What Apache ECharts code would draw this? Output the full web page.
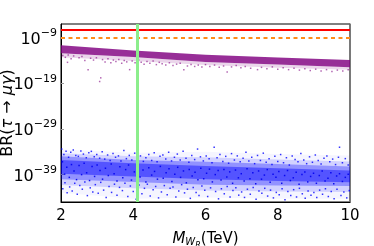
<!DOCTYPE html>
<html><head><meta charset="utf-8">
<script src="https://cdn.jsdelivr.net/npm/echarts@6/dist/echarts.min.js"></script>
<style>html,body{margin:0;padding:0;background:#fff}#c{width:374px;height:246px}</style>
</head><body><div id="c"></div>
<script>
// ---- data (y values are log10 of BR) ----
const xTicks = [2, 4, 6, 8, 10];
const yTickExps = [-39, -29, -19, -9];
const limitCurrent = -7.3;   // red solid
const limitFuture = -8.92;   // orange dashed
const greenMWR = 4.1;        // green vertical

const bandX = [2, 4, 6, 8, 10];
const purpleTop = [-10.67, -11.8, -12.74, -13.35, -13.89];
const purpleBottom = [-12.4, -13.25, -14.33, -14.9, -15.5];
const purpleSparseBottom = [-13.3, -14.1, -15.0, -15.6, -16.0];

const blueOuterTop = [-33.5, -34.2, -34.0, -34.5, -34.8];
const blueOuterBottom = [-43.0, -44.3, -44.0, -44.3, -44.3];
const blueMidTop = [-34.3, -35.0, -35.2, -35.7, -36.1];
const blueMidBottom = [-41.3, -42.0, -42.5, -42.7, -42.8];
const blueDenseTop = [-35.0, -35.8, -36.2, -36.7, -37.2];
const blueDenseBottom = [-40.0, -40.6, -41.2, -41.4, -41.5];
const blueCoreTop = [-35.8, -36.5, -37.1, -37.6, -38.1];
const blueCoreBottom = [-38.8, -39.4, -40.0, -40.4, -40.7];

const purplePts = [[2.05,-12.9],[2.12,-13.3],[2.18,-14.4],[2.20,-12.8],[2.28,-13.6],[2.35,-13.0],[2.50,-13.4],[2.58,-13.1],[2.66,-14.0],[2.75,-16.0],[2.82,-13.5],[2.90,-13.9],[2.98,-13.4],[3.07,-18.6],[3.10,-17.8],[3.15,-13.8],[3.22,-14.3],[3.30,-13.6],[3.38,-14.5],[3.45,-13.9],[3.52,-14.2],[3.60,-13.8],[3.68,-14.6],[3.75,-14.0],[3.82,-14.3],[3.90,-16.0],[3.97,-14.1],[4.05,-14.5],[4.15,-13.9],[4.22,-14.4],[4.30,-14.8],[4.38,-14.2],[4.46,-14.6],[4.55,-14.1],[4.64,-14.9],[4.72,-14.4],[4.80,-14.7],[4.90,-15.0],[5.00,-14.5],[5.10,-15.1],[5.20,-14.8],[5.30,-14.6],[5.40,-16.0],[5.50,-15.2],[5.60,-14.9],[5.70,-15.3],[5.80,-15.0],[5.90,-15.4],[6.00,-14.9],[6.12,-15.3],[6.25,-15.0],[6.38,-15.5],[6.50,-15.2],[6.60,-16.5],[6.72,-15.4],[6.85,-15.1],[6.98,-15.6],[7.10,-15.3],[7.25,-15.7],[7.44,-16.0],[7.55,-15.5],[7.70,-15.8],[7.85,-15.4],[8.00,-15.9],[8.15,-15.6],[8.30,-16.0],[8.45,-15.7],[8.60,-16.1],[8.75,-15.8],[8.90,-16.2],[9.05,-15.9],[9.20,-16.3],[9.35,-16.0],[9.50,-16.4],[9.65,-16.1],[9.80,-16.3],[9.95,-16.0]];

const bluePts = [[2.02,-33.4],[2.05,-42.1],[2.08,-34.6],[2.11,-40.8],[2.14,-33.9],[2.17,-43.0],[2.21,-35.2],[2.24,-41.7],[2.27,-34.1],[2.31,-42.6],[2.34,-33.6],[2.38,-40.9],[2.41,-34.8],[2.45,-43.3],[2.48,-35.0],[2.52,-41.4],[2.55,-33.8],[2.59,-42.2],[2.62,-34.5],[2.66,-40.6],[2.70,-35.3],[2.73,-43.6],[2.77,-34.2],[2.81,-41.9],[2.84,-33.9],[2.88,-42.8],[2.92,-35.1],[2.95,-41.2],[2.99,-34.6],[3.03,-43.1],[3.07,-35.4],[3.10,-40.7],[3.14,-34.0],[3.18,-42.4],[3.21,-35.6],[3.25,-44.0],[3.29,-34.7],[3.33,-41.6],[3.36,-35.9],[3.40,-42.9],[3.44,-34.4],[3.48,-41.1],[3.51,-35.2],[3.55,-43.5],[3.59,-34.9],[3.62,-41.8],[3.66,-36.0],[3.70,-42.5],[3.74,-33.7],[3.77,-40.9],[3.81,-35.5],[3.85,-43.8],[3.89,-34.8],[3.92,-41.5],[3.96,-35.8],[4.00,-42.7],[4.04,-34.3],[4.08,-44.4],[4.12,-35.7],[4.16,-41.3],[4.20,-34.9],[4.24,-43.2],[4.28,-36.1],[4.31,-42.0],[4.35,-35.3],[4.39,-41.1],[4.43,-34.6],[4.47,-43.7],[4.51,-35.9],[4.55,-42.3],[4.58,-34.2],[4.62,-41.6],[4.66,-36.2],[4.70,-44.1],[4.74,-35.0],[4.78,-42.8],[4.82,-34.7],[4.86,-41.4],[4.90,-35.6],[4.94,-43.4],[4.98,-34.1],[5.02,-42.0],[5.06,-36.0],[5.10,-41.7],[5.14,-35.2],[5.18,-43.9],[5.22,-34.5],[5.26,-42.6],[5.30,-35.8],[5.34,-41.2],[5.38,-33.9],[5.42,-43.0],[5.46,-35.4],[5.50,-42.2],[5.54,-36.3],[5.58,-44.2],[5.62,-34.8],[5.66,-41.8],[5.70,-35.7],[5.74,-42.9],[5.78,-33.4],[5.82,-43.6],[5.86,-35.1],[5.90,-41.5],[5.94,-36.0],[5.98,-42.4],[6.02,-34.9],[6.06,-43.8],[6.10,-35.5],[6.14,-41.9],[6.18,-36.4],[6.24,-33.0],[6.28,-42.7],[6.32,-35.3],[6.36,-44.3],[6.40,-34.6],[6.44,-42.1],[6.48,-36.1],[6.52,-43.2],[6.56,-35.0],[6.60,-41.6],[6.64,-36.5],[6.68,-43.9],[6.72,-34.4],[6.76,-42.5],[6.80,-35.8],[6.84,-41.9],[6.88,-34.9],[6.92,-43.5],[6.96,-36.2],[7.00,-42.8],[7.04,-35.4],[7.08,-44.0],[7.12,-34.1],[7.16,-42.2],[7.20,-36.0],[7.24,-43.3],[7.28,-35.2],[7.32,-41.8],[7.36,-36.6],[7.40,-44.4],[7.44,-34.8],[7.48,-42.6],[7.52,-35.9],[7.56,-43.1],[7.60,-34.3],[7.64,-42.0],[7.68,-36.3],[7.72,-43.7],[7.76,-35.5],[7.80,-42.4],[7.84,-36.8],[7.88,-44.1],[7.92,-35.0],[7.96,-42.9],[8.00,-36.1],[8.04,-43.4],[8.08,-34.6],[8.12,-42.1],[8.16,-36.4],[8.20,-44.5],[8.24,-35.3],[8.28,-42.7],[8.32,-36.9],[8.36,-43.6],[8.40,-34.9],[8.44,-42.3],[8.48,-35.7],[8.52,-43.9],[8.56,-36.2],[8.60,-42.0],[8.64,-34.4],[8.68,-43.2],[8.72,-35.8],[8.76,-44.2],[8.80,-36.6],[8.84,-42.6],[8.88,-35.1],[8.92,-43.5],[8.96,-36.3],[9.00,-42.9],[9.04,-34.7],[9.08,-44.0],[9.12,-35.9],[9.16,-42.4],[9.20,-36.7],[9.24,-43.3],[9.28,-35.4],[9.32,-42.1],[9.36,-34.9],[9.40,-43.8],[9.44,-36.2],[9.48,-42.7],[9.52,-35.6],[9.56,-44.3],[9.60,-36.8],[9.64,-42.2],[9.68,-35.2],[9.71,-33.0],[9.75,-43.6],[9.79,-36.4],[9.83,-42.8],[9.87,-35.5],[9.91,-44.1],[9.95,-36.9],[9.98,-42.5]];

const blueDensePts = [[2.04,-36.2],[2.10,-38.9],[2.16,-37.4],[2.23,-39.6],[2.29,-36.8],[2.36,-38.2],[2.43,-40.1],[2.50,-37.0],[2.57,-39.0],[2.64,-36.5],[2.71,-38.6],[2.79,-40.3],[2.86,-37.2],[2.93,-39.4],[3.00,-36.9],[3.08,-38.1],[3.15,-40.0],[3.23,-37.6],[3.31,-39.2],[3.39,-36.7],[3.47,-38.8],[3.55,-40.4],[3.63,-37.3],[3.71,-39.7],[3.79,-37.9],[3.87,-36.9],[3.95,-40.2],[4.03,-38.4],[4.11,-37.1],[4.19,-39.5],[4.27,-38.0],[4.35,-40.6],[4.43,-37.5],[4.51,-39.1],[4.59,-38.3],[4.67,-40.0],[4.75,-37.2],[4.83,-39.8],[4.91,-38.6],[4.99,-37.7],[5.07,-40.5],[5.15,-38.9],[5.23,-37.4],[5.31,-39.6],[5.39,-38.2],[5.47,-40.8],[5.55,-37.9],[5.63,-39.3],[5.71,-38.5],[5.79,-40.1],[5.87,-37.6],[5.95,-39.9],[6.03,-38.7],[6.11,-37.8],[6.19,-40.6],[6.27,-39.0],[6.35,-38.1],[6.43,-40.2],[6.51,-37.9],[6.59,-39.5],[6.67,-38.4],[6.75,-40.9],[6.83,-38.0],[6.91,-39.7],[6.99,-38.8],[7.07,-40.4],[7.15,-37.7],[7.23,-39.9],[7.31,-38.6],[7.39,-41.0],[7.47,-38.2],[7.55,-40.0],[7.63,-39.1],[7.71,-37.9],[7.79,-40.7],[7.87,-38.9],[7.95,-39.6],[8.03,-38.3],[8.11,-40.9],[8.19,-39.2],[8.27,-38.1],[8.35,-40.3],[8.43,-39.7],[8.51,-38.5],[8.59,-41.1],[8.67,-39.0],[8.75,-38.4],[8.83,-40.6],[8.91,-39.4],[8.99,-38.7],[9.07,-40.9],[9.15,-39.2],[9.23,-38.2],[9.31,-40.4],[9.39,-39.8],[9.47,-38.6],[9.55,-41.0],[9.63,-39.3],[9.71,-38.8],[9.79,-40.5],[9.87,-39.6],[9.95,-38.9]];

// ---- chart ----
function bandSeries(top, bottom, color, z) {
  return {
    type: 'custom', silent: true, z: z, clip: true,
    data: [[bandX[0], top[0]]],
    renderItem: function (params, api) {
      const pts = [];
      for (let i = 0; i < bandX.length; i++) pts.push(api.coord([bandX[i], top[i]]));
      for (let i = bandX.length - 1; i >= 0; i--) pts.push(api.coord([bandX[i], bottom[i]]));
      return { type: 'polygon', shape: { points: pts }, style: { fill: color } };
    }
  };
}
const FONT = 'DejaVu Sans';
const chart = echarts.init(document.getElementById('c'), null, { renderer: 'canvas' });
chart.setOption({
  animation: false,
  backgroundColor: '#fff',
  grid: { left: 61, right: 24, top: 24, bottom: 44, containLabel: false, outerBoundsMode: 'none', show: true, borderColor: '#000', borderWidth: 1, backgroundColor: 'transparent' },
  xAxis: {
    type: 'value', min: xTicks[0], max: xTicks[xTicks.length - 1], interval: 2,
    splitLine: { show: false },
    axisLine: { lineStyle: { color: '#000', width: 1 } },
    axisTick: { show: false },
    axisLabel: { color: '#000', fontFamily: FONT, fontSize: 15, margin: 7 },
    name: '{mi|M}{w|W}{r|R}{n|(TeV)}',
    nameLocation: 'middle', nameGap: 26, nameMoveOverlap: false,
    nameTextStyle: {
      color: '#000',
      rich: {
        mi: { fontFamily: FONT, fontSize: 15, fontStyle: 'italic', lineHeight: 22, verticalAlign: 'middle', color: '#000' },
        w: { fontFamily: FONT, fontSize: 10, fontStyle: 'italic', lineHeight: 10, verticalAlign: 'bottom', padding: [0, 0, 3, 0], color: '#000' },
        r: { fontFamily: FONT, fontSize: 8, fontStyle: 'italic', lineHeight: 8, verticalAlign: 'bottom', color: '#000' },
        n: { fontFamily: FONT, fontSize: 15, lineHeight: 22, verticalAlign: 'middle', color: '#000' }
      }
    }
  },
  yAxis: [{
    type: 'value', min: -45, max: -6,
    splitLine: { show: false },
    axisLine: { lineStyle: { color: '#000', width: 1 } },
    axisTick: { show: true, inside: true, length: 3, customValues: yTickExps, lineStyle: { color: '#999' } },
    axisLabel: {
      customValues: yTickExps, margin: 4,
      formatter: function (v) { return '{b|10}{s|' + String(v).replace('-', '\u2212') + '}'; },
      rich: {
        b: { fontFamily: FONT, fontSize: 16, color: '#000', lineHeight: 20, verticalAlign: 'bottom' },
        s: { fontFamily: FONT, fontSize: 11, color: '#000', lineHeight: 20, verticalAlign: 'top', padding: [0, 0, 7, 0] }
      }
    },
    name: '{n|BR(}{i|\u03c4}{n| \u2192 }{i|\u03bc\u03b3}{n|)}',
    nameLocation: 'middle', nameGap: 45, nameRotate: 90, nameMoveOverlap: false,
    nameTextStyle: {
      rich: {
        n: { fontFamily: FONT, fontSize: 16, color: '#000' },
        i: { fontFamily: FONT, fontSize: 16, fontStyle: 'italic', color: '#000' }
      }
    }
  }, {
    type: 'value', position: 'right', min: -45, max: -6,
    splitLine: { show: false },
    axisLine: { show: true, lineStyle: { color: '#777', width: 1.5 } },
    axisTick: { show: false },
    axisLabel: { show: false }
  }],
  series: [
    bandSeries(blueOuterTop, blueOuterBottom, 'rgba(0,0,255,0.04)', 1),
    bandSeries(blueMidTop, blueMidBottom, 'rgba(0,0,255,0.14)', 1),
    bandSeries(blueDenseTop, blueDenseBottom, 'rgba(0,0,255,0.30)', 2),
    bandSeries(blueCoreTop, blueCoreBottom, 'rgba(0,0,255,0.42)', 3),
    bandSeries(purpleBottom, purpleSparseBottom, 'rgba(128,0,128,0.16)', 1),
    bandSeries(purpleTop, purpleBottom, 'rgba(128,0,128,0.82)', 2),
    { type: 'scatter', data: bluePts, symbol: 'rect', symbolSize: 1.5, itemStyle: { color: '#0000ff', opacity: 0.8 }, z: 4, silent: true },
    { type: 'scatter', data: blueDensePts, symbol: 'rect', symbolSize: 1.5, itemStyle: { color: '#0000ee', opacity: 0.9 }, z: 4, silent: true },
    { type: 'scatter', data: purplePts, symbol: 'rect', symbolSize: 1.5, itemStyle: { color: '#800080', opacity: 0.6 }, z: 4, silent: true },
    {
      type: 'line', data: [], z: 6,
      markLine: {
        silent: true, symbol: 'none', label: { show: false }, animation: false,
        data: [
          { yAxis: limitCurrent, lineStyle: { color: '#ff0000', width: 2, type: 'solid' } },
          { yAxis: limitFuture, lineStyle: { color: '#ff8c1a', width: 2, type: [4, 3.5] } },
          { xAxis: greenMWR, lineStyle: { color: '#8cee8c', width: 3, type: 'solid' } }
        ]
      }
    }
  ]
});
</script></body></html>
